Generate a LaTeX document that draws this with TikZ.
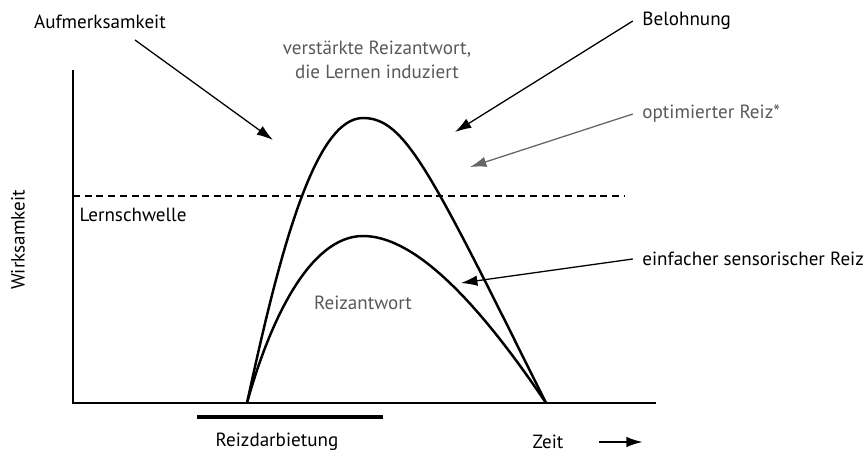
\documentclass[tikz,border=0pt]{standalone}
\usepackage{fontspec}
\setmainfont{PT Sans}
\usetikzlibrary{arrows.meta}

\begin{document}
\begin{tikzpicture}[x=0.03cm, y=-0.03cm,
  lbl/.style={font=\fontsize{16.3}{20.5}\selectfont, inner sep=1pt},
  glbl/.style={lbl, text=black!65, align=center},
  arr/.style={-{Latex[length=14pt, width=9pt]}, line width=1.1pt},
  garr/.style={arr, draw=black!60},
  axis/.style={line width=1pt},
  curve/.style={line width=2.1pt},
  thr/.style={line width=0.9pt, dash pattern=on 6pt off 4pt}
]
\useasboundingbox (0,0) rectangle (863,454);

% ---- Achsen ----
\coordinate (ytop) at (73,70);
\coordinate (o)    at (73,403);
\coordinate (xend) at (656,403);
\draw[axis] (ytop) -- (o) -- (xend);
\node[lbl, rotate=90] (wirk) at (18,240) {Wirksamkeit};

% ---- Lernschwelle ----
\coordinate (thr-a) at (73,196);
\coordinate (thr-b) at (625,196);
\draw[thr] (thr-a) -- (thr-b);
\node[lbl] (schwelle) at (133,215) {Lernschwelle};

% ---- Kurven ----
\coordinate (start) at (247,403);
\coordinate (stop)  at (546,403);
\draw[curve] (start) .. controls (280,250) and (315,118) .. (363,118)
             .. controls (405,118) and (430,170) .. (stop);
\draw[curve] (start) .. controls (270,320) and (310,236) .. (363,236)
             .. controls (410,236) and (470,290) .. (stop);
\node[glbl] (antwort) at (363,303) {Reizantwort};
\node[glbl] (verst) at (377,60) {verstärkte Reizantwort,\\die Lernen induziert};

% ---- Reizdarbietung / Zeit ----
\coordinate (bar-a) at (197,417);
\coordinate (bar-b) at (383,417);
\draw[line width=2.6pt] (bar-a) -- (bar-b);
\node[lbl] (darb) at (277,442) {Reizdarbietung};
\node[lbl] (zeit) at (548,442) {Zeit};
\draw[arr, line width=1.6pt] (zeit.east) ++(34,0) -- ++(44,0);

% ---- Einflüsse ----
\node[lbl] (aufm) at (100,22) {Aufmerksamkeit};
\coordinate (aufm-tip) at (273,140);
\draw[arr] (aufm) ++(35,18) -- (aufm-tip);

\node[lbl, anchor=west] (bel) at (641,21) {Belohnung};
\coordinate (bel-tip) at (455,132);
\draw[arr] ([xshift=-7pt]bel.west) -- (bel-tip);

\node[glbl, anchor=west] (opt) at (641,114) {optimierter Reiz*};
\coordinate (opt-tip) at (470,167);
\draw[garr] ([xshift=-7pt]opt.west) -- (opt-tip);

\node[lbl, anchor=west] (einf) at (641,259) {einfacher sensorischer Reiz};
\coordinate (einf-tip) at (461,283);
\draw[arr] ([xshift=-7pt]einf.west) -- (einf-tip);

\end{tikzpicture}
\end{document}
